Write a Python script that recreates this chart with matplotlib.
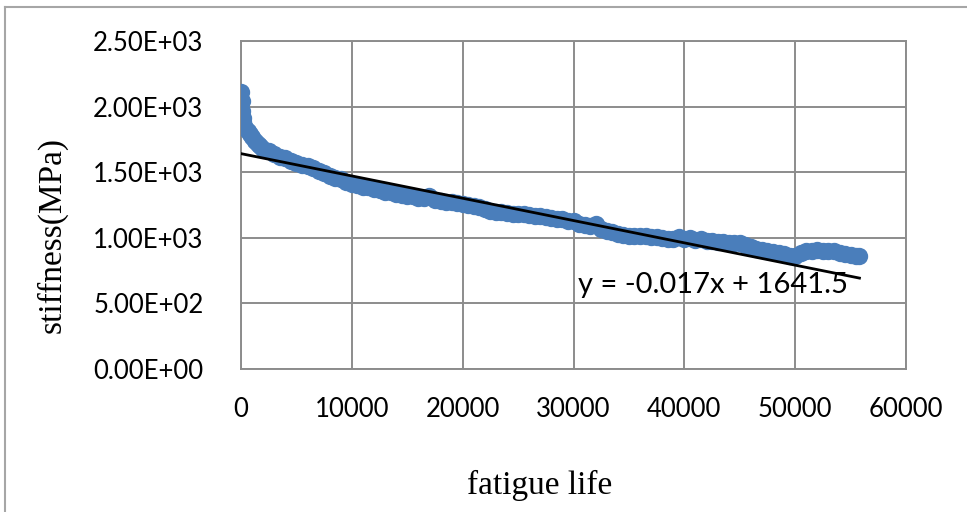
#!/usr/bin/env python3

import matplotlib

matplotlib.use("Agg")
import matplotlib.pyplot as plt
from matplotlib.lines import Line2D
from matplotlib.ticker import FuncFormatter

# stiffness readings (cycles, MPa)
cycles = [
    0, 50, 100, 150, 200, 300, 400, 600, 800, 1000, 1250, 1500, 1750,
    2000, 2500, 3000, 3500, 4000, 4500, 5000, 5500, 6000, 6500, 7000, 7500,
    8000, 8500, 9000, 9500, 10000, 10500, 11000, 11500, 12000, 12500, 13000,
    13500, 14000, 14500, 15000, 15500, 16000, 16500, 17000, 17500, 18000,
    18500, 19000, 19500, 20000, 20500, 21000, 21500, 22000, 22500, 23000,
    23500, 24000, 24500, 25000, 25500, 26000, 26500, 27000, 27500, 28000,
    28500, 29000, 29500, 30000, 30500, 31000, 31500, 32000, 32500, 33000,
    33500, 34000, 34500, 35000, 35500, 36000, 36500, 37000, 37500, 38000,
    38500, 39000, 39500, 40000, 40500, 41000, 41500, 42000, 42500, 43000,
    43500, 44000, 44500, 45000, 45500, 46000, 46500, 47000, 47500, 48000,
    48500, 49000, 49500, 50000, 50500, 51000, 51500, 52000, 52500, 53000,
    53500, 54000, 54500, 55000, 55500, 55800,
]
stiffness = [
    2110, 2040, 1970, 1910, 1880, 1850, 1835, 1815, 1790, 1765, 1738, 1715, 1698,
    1680, 1660, 1640, 1618, 1605, 1588, 1570, 1555, 1545, 1530, 1508, 1495,
    1472, 1456, 1446, 1424, 1410, 1400, 1390, 1386, 1370, 1366, 1352,
    1346, 1335, 1330, 1322, 1318, 1305, 1300, 1318, 1285, 1280,
    1272, 1270, 1262, 1260, 1250, 1244, 1232, 1218, 1206, 1200,
    1194, 1190, 1185, 1182, 1178, 1175, 1168, 1165, 1158, 1152,
    1142, 1140, 1130, 1130, 1104, 1095, 1090, 1105, 1068, 1055,
    1042, 1030, 1024, 1017, 1014, 1010, 1012, 1004, 1008, 1000,
    994, 992, 1008, 988, 995, 985, 992, 978, 972, 970,
    968, 964, 962, 957, 943, 932, 918, 907, 897, 890,
    882, 874, 864, 860, 882, 896, 902, 906, 900, 903,
    897, 887, 880, 872, 864, 860,
]

# linear trend line shown on the chart
slope = -0.017
intercept = 1641.5

x_ticks = [0, 10000, 20000, 30000, 40000, 50000, 60000]
y_ticks = [0, 500, 1000, 1500, 2000, 2500]

W, H = 967, 512
fig = plt.figure(figsize=(W / 100, H / 100), dpi=100)
ax = fig.add_axes([241 / W, 1 - 369 / H, (906 - 241) / W, (369 - 41) / H])

ax.plot(cycles, stiffness, "o", color="#4a7ebb", markersize=12.5,
        markeredgewidth=0, zorder=3)

x_end = cycles[-1]
ax.plot([0, x_end], [intercept, intercept + slope * x_end], "-",
        color="black", linewidth=2, zorder=4)

ax.set_xlim(0, 60000)
ax.set_ylim(0, 2500)
ax.set_xticks(x_ticks)
ax.set_yticks(y_ticks)
ax.yaxis.set_major_formatter(FuncFormatter(lambda v, p: f"{v:.2E}"))
ax.xaxis.set_major_formatter(FuncFormatter(lambda v, p: f"{int(v)}"))
ax.tick_params(length=0, labelsize=18.5, pad=20)
ax.tick_params(axis="y", pad=27)
for lab in ax.get_xticklabels() + ax.get_yticklabels():
    lab.set_fontfamily("Lato")

ax.grid(True, color="#8c8c8c", linewidth=1.4)
ax.set_axisbelow(True)
for sp in ax.spines.values():
    sp.set_color("#8c8c8c")
    sp.set_linewidth(1.4)

ax.text(0.507, 0.256, f"y = {slope}x + {intercept}", transform=ax.transAxes,
        ha="left", va="center", fontsize=21, family="Lato", zorder=5)

fig.text(540 / W, 1 - 485 / H, "fatigue life", ha="center", va="center",
         fontsize=24, family="Liberation Serif")
fig.text(52 / W, 1 - 235 / H, "stiffness(MPa)", ha="center", va="center",
         rotation=90, fontsize=24, family="Liberation Serif")

# outer chart frame (left and top edges visible)
fig.add_artist(Line2D([5 / W, 5 / W], [0, 1 - 7 / H], color="#a6a6a6",
                      linewidth=1.5, transform=fig.transFigure))
fig.add_artist(Line2D([5 / W, 1], [1 - 7 / H, 1 - 7 / H], color="#a6a6a6",
                      linewidth=1.5, transform=fig.transFigure))

fig.savefig("out.png", dpi=100)
